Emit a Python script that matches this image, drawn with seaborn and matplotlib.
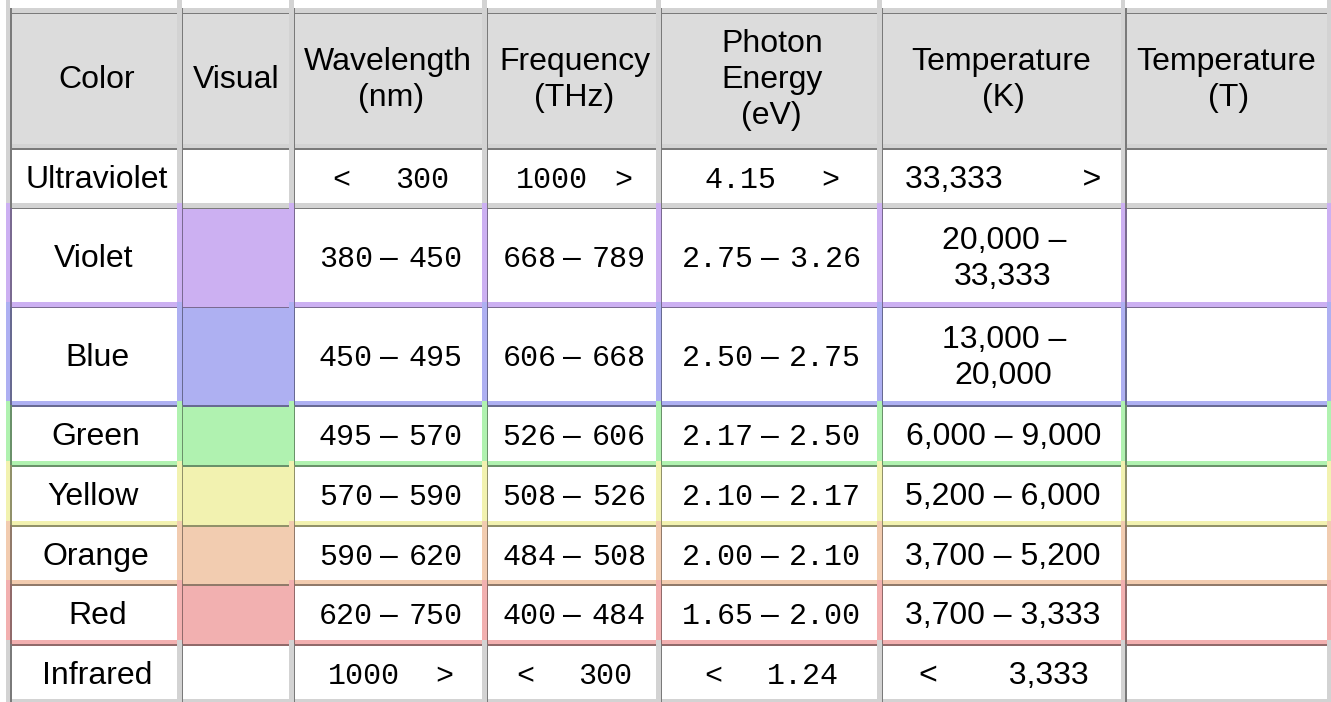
import re
import numpy as np
import pandas as pd
import seaborn as sns
import matplotlib
matplotlib.use("Agg")
import matplotlib.pyplot as plt
from matplotlib.patches import Rectangle
from matplotlib import font_manager, ft2font
from matplotlib.colors import to_rgb

# ---------------- data ----------------
headers = ["Color", "Visual", "Wavelength\n(nm)", "Frequency\n(THz)",
           "Photon\nEnergy\n(eV)", "Temperature\n(K)", "Temperature\n(T)"]
color_names = ["Ultraviolet", "Violet", "Blue", "Green", "Yellow", "Orange", "Red", "Infrared"]
swatches = [None, "#CCB0F2", "#AEB0F2", "#B0F2B0", "#F2F2B0", "#F2CCB0", "#F2B0B0", None]
wavelength_nm = ["<     300", "380 – 450", "450 – 495", "495 – 570",
                 "570 – 590", "590 – 620", "620 – 750", "1000    >"]
frequency_thz = ["1000   >", "668 – 789", "606 – 668", "526 – 606",
                 "508 – 526", "484 – 508", "400 – 484", "<     300"]
photon_ev = ["4.15     >", "2.75 – 3.26", "2.50 – 2.75", "2.17 – 2.50",
             "2.10 – 2.17", "2.00 – 2.10", "1.65 – 2.00", "<     1.24"]
temperature_k = ["33,333         >", "20,000 –\n33,333", "13,000 –\n20,000", "6,000 – 9,000",
                 "5,200 – 6,000", "3,700 – 5,200", "3,700 – 3,333", "<        3,333"]
temperature_t = ["", "", "", "", "", "", "", ""]

table = pd.DataFrame({
    "Color": color_names, "Visual": [""] * len(color_names),
    "Wavelength": wavelength_nm, "Frequency": frequency_thz,
    "Photon": photon_ev, "TempK": temperature_k, "TempT": temperature_t,
})
mono_cols = {2, 3, 4}

# ---------------- layout ----------------
sns.set_theme(style="white")
plt.rcParams['font.family'] = ['Liberation Sans', 'DejaVu Sans']

DPI = 100
W, H = 1331, 702
SANS_PX, MONO_PX = 32, 30
GAP, LINE = 4.5, 1.6
X = [10, 181.5, 293.5, 486.5, 660.5, 881.5, 1125, 1331.5]
Y = [12.5, 148, 207.5, 306.5, 405, 465, 525, 584, 644, 703.5]
row_tints = [None] + swatches
NEUTRAL_GAP, NEUTRAL_DARK = "#d3d3d3", "#7a7a7a"
HEADER_FILL = "#dcdcdc"

sans_fp = font_manager.FontProperties(family="Liberation Sans", size=SANS_PX * 72 / DPI)
mono_fp = font_manager.FontProperties(family="Liberation Mono", size=MONO_PX * 72 / DPI)
_ft = {}


def ftfont(fp):
    key = id(fp)
    if key not in _ft:
        f = ft2font.FT2Font(font_manager.findfont(fp), hinting_factor=1)
        f.set_size(fp.get_size_in_points(), DPI)
        _ft[key] = f
    return _ft[key]


def adv(s, fp):
    f = ftfont(fp)
    return sum(f.load_char(ord(ch)).linearHoriAdvance / 65536.0 for ch in s)


def lsb(ch, fp):
    return ftfont(fp).load_char(ord(ch)).horiBearingX / 64.0


def gap_color(r):
    return row_tints[r] or NEUTRAL_GAP


def dark_color(r):
    t = row_tints[r]
    return tuple(v * 0.6 for v in to_rgb(t)) if t else NEUTRAL_DARK


fig = plt.figure(figsize=(W / DPI, H / DPI), dpi=DPI)
ax = fig.add_axes([0, 0, 1, 1])
ax.set_xlim(0, W)
ax.set_ylim(H, 0)
ax.axis("off")
fig.patch.set_facecolor("white")


def rect(x, y, w, h, c, z=1):
    ax.add_patch(Rectangle((x, y), w, h, facecolor=c, edgecolor="none", lw=0, zorder=z))


nrows = len(Y) - 1
ncols = len(X) - 1

# row backgrounds (gaps)
rect(X[0] - GAP, Y[0] - 5, W, 5, gap_color(0))
for r in range(nrows):
    rect(X[0] - GAP, Y[r], W, Y[r + 1] - Y[r], gap_color(r))
# vertical gap strips
for r in range(nrows):
    y0 = 0 if r == 0 else Y[r] - GAP
    y1 = Y[r + 1] - GAP
    for c in range(ncols + 1):
        rect(X[c] - GAP, y0, GAP, y1 - y0, gap_color(r), z=1.1)
# cell fills
for r in range(nrows):
    for c in range(ncols):
        if r == 0:
            fc = HEADER_FILL
        elif c == 1 and swatches[r - 1]:
            fc = swatches[r - 1]
        else:
            fc = "white"
        rect(X[c] + LINE, Y[r] + LINE, X[c + 1] - GAP - X[c] - LINE,
             Y[r + 1] - GAP - Y[r] - LINE, fc, z=1.2)
# dark borders
for r in range(nrows):
    top_c = dark_color(r - 1) if r > 0 else NEUTRAL_DARK
    y0 = Y[0] - 5 if r == 0 else Y[r]
    for c in range(ncols):
        rect(X[c], Y[r], X[c + 1] - GAP - X[c], LINE, top_c, z=1.3)
        rect(X[c], y0, LINE, Y[r + 1] - y0, dark_color(r), z=1.4)


def draw_line(xc, base, line, mono):
    if mono:
        tokens = re.findall(r"[^ –]+|[ –]+", line)
    else:
        tokens = [line]
    fps = []
    for t in tokens:
        fps.append(mono_fp if (mono and t.strip(" –")) else sans_fp)
    total = sum(adv(t, fp) for t, fp in zip(tokens, fps))
    pen = xc - total / 2
    for t, fp in zip(tokens, fps):
        s = t.lstrip(" ")
        lead = t[:len(t) - len(s)]
        if s.strip():
            x = pen + adv(lead, fp) + lsb(s[0], fp)
            ax.text(x, base, s, fontproperties=fp, ha="left", va="baseline",
                    color="black", zorder=3)
        pen += adv(t, fp)


def draw_cell(r, c, text, mono, dy=0.0, pitch=36):
    if not text:
        return
    xc = (X[c] + LINE + X[c + 1] - GAP) / 2
    yc = (Y[r] + LINE + Y[r + 1] - GAP) / 2 + dy
    lines = text.split("\n")
    n = len(lines)
    for i, ln in enumerate(lines):
        center = yc + (i - (n - 1) / 2) * pitch
        draw_line(xc, center + 0.358 * SANS_PX, ln, mono)


for c, h in enumerate(headers):
    draw_cell(0, c, h, False, dy=-2)
cols = list(table.columns)
for i in range(len(table)):
    for c, col in enumerate(cols):
        draw_cell(i + 1, c, table.iloc[i][col], c in mono_cols)

fig.savefig("out.png", dpi=DPI, facecolor="white")
